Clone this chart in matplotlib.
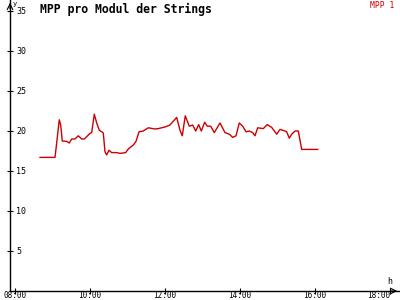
import matplotlib
matplotlib.use("Agg")
import matplotlib.pyplot as plt

# time of day in hours, MPP value per module
hours = [8.667, 9.067, 9.112, 9.181, 9.219, 9.261, 9.379, 9.448, 9.512, 9.6,
         9.688, 9.779, 9.848, 10.0, 10.045, 10.115, 10.179, 10.248, 10.312, 10.355,
         10.4, 10.445, 10.507, 10.579, 10.712, 10.8, 10.952, 11.021, 11.155, 11.227,
         11.307, 11.421, 11.555, 11.733, 11.821, 12.0, 12.133, 12.312, 12.4, 12.461,
         12.541, 12.648, 12.739, 12.819, 12.899, 12.968, 13.059, 13.128, 13.219, 13.315,
         13.467, 13.6, 13.715, 13.805, 13.893, 13.981, 14.072, 14.16, 14.248, 14.339,
         14.4, 14.472, 14.621, 14.728, 14.845, 14.979, 15.067, 15.2, 15.245, 15.315,
         15.379, 15.467, 15.555, 15.645, 16.072]
mpp = [16.7, 16.7, 18.5, 21.4, 20.75, 18.75, 18.7, 18.5, 19.0, 19.0,
       19.4, 19.0, 19.0, 19.7, 19.8, 22.1, 21.0, 20.1, 19.9, 19.75,
       17.4, 17.0, 17.6, 17.3, 17.3, 17.2, 17.3, 17.75, 18.25, 18.7,
       19.9, 20.0, 20.4, 20.25, 20.3, 20.5, 20.75, 21.7, 20.1, 19.4,
       21.9, 20.6, 20.75, 20.0, 20.8, 20.0, 21.1, 20.6, 20.6, 19.8,
       21.0, 19.8, 19.6, 19.2, 19.4, 21.0, 20.6, 19.9, 20.0, 19.8,
       19.4, 20.4, 20.3, 20.8, 20.45, 19.6, 20.2, 20.0, 19.9, 19.1,
       19.6, 20.0, 20.0, 17.7, 17.7]
yticks = [5, 10, 15, 20, 25, 30, 35]
xticks = [8, 10, 12, 14, 16, 18]
xlabels = ["08:00", "10:00", "12:00", "14:00", "16:00", "18:00"]

fig = plt.figure(figsize=(4, 3), dpi=100)
ax = fig.add_axes([10/400, 9/300, 390/400, 291/300])
ax.plot(hours, mpp, color="#cc0000", lw=1)
ax.set_xlim(7.867, 18.267)
ax.set_ylim(0, 36.375)
for s in ["top", "right"]:
    ax.spines[s].set_visible(False)
ax.spines["left"].set_linewidth(1)
ax.spines["bottom"].set_linewidth(1)

ax.set_yticks(yticks)
ax.set_yticklabels([str(v) for v in yticks], family="DejaVu Sans Mono", fontsize=6)
ax.set_xticks(xticks)
ax.set_xticklabels(xlabels, family="DejaVu Sans Mono", fontsize=5.5)
ax.tick_params(axis="both", direction="inout", length=5, width=0.8)
ax.tick_params(axis="y", pad=-7)
for lb in ax.get_yticklabels():
    lb.set_ha("left")
ax.tick_params(axis="x", pad=-2.5)
# keep the last label inside the figure
ax.get_xticklabels()[-1].set_ha("right")

# axis arrows
ax.annotate("", xy=(0, 1.0), xytext=(0, 0.96), xycoords="axes fraction",
            arrowprops=dict(arrowstyle="->", lw=0.8, color="black"))
ax.annotate("", xy=(1.0, 0), xytext=(0.97, 0), xycoords="axes fraction",
            arrowprops=dict(arrowstyle="->", lw=0.8, color="black"))

fig.text(13/400, 1 - 4/300, "y", fontsize=5, family="DejaVu Sans Mono", va="center")
fig.text(387/400, 1 - 282/300, "h", fontsize=6, family="DejaVu Sans Mono", va="center")
fig.text(40/400, 1 - 9/300, "MPP pro Modul der Strings", fontsize=8.3,
         family="DejaVu Sans Mono", fontweight="bold", va="center")
fig.text(394/400, 1 - 5/300, "MPP 1", fontsize=5.8, family="DejaVu Sans Mono",
         color="#cc0000", ha="right", va="center")

fig.savefig("out.png", dpi=100)
